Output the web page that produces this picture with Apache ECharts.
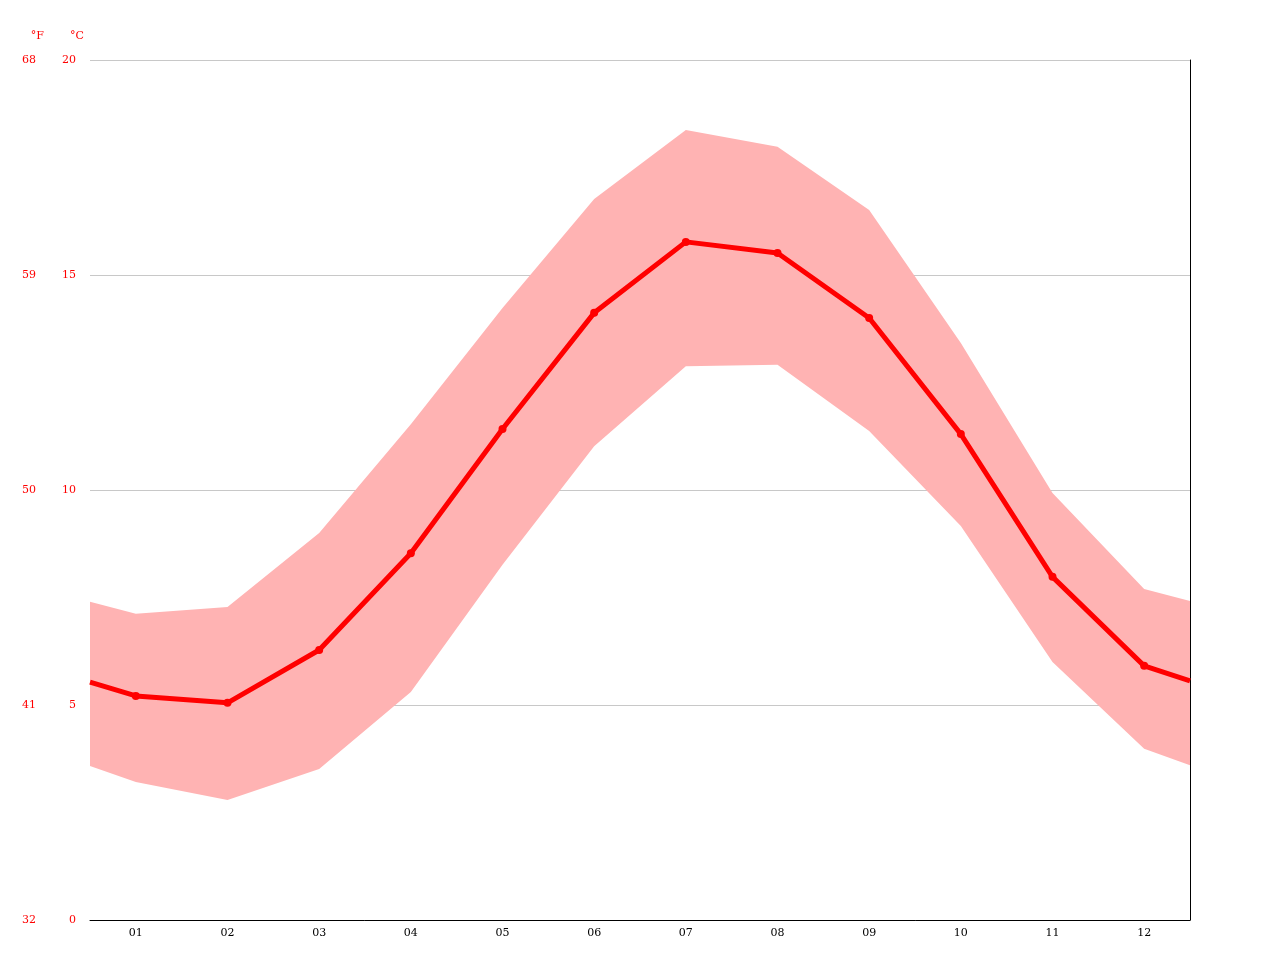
<!DOCTYPE html>
<html>
<head>
<meta charset="utf-8">
<script src="https://cdn.jsdelivr.net/npm/echarts@6/dist/echarts.min.js"></script>
<style>html,body{margin:0;padding:0;background:#fff}#chart{width:1280px;height:960px}</style>
</head>
<body>
<div id="chart"></div>
<script>
// 月份
var months = ['01','02','03','04','05','06','07','08','09','10','11','12'];
// x 位置 (两端为图边缘的值)
var xPos = [0.5, 1, 2, 3, 4, 5, 6, 7, 8, 9, 10, 11, 12, 12.5];
// 平均气温 °C
var tempAvg = [5.53, 5.21, 5.05, 6.28, 8.53, 11.42, 14.12, 15.77, 15.51, 14.0, 11.30, 7.98, 5.91, 5.56];
// 最高气温 °C
var tempMax = [7.40, 7.12, 7.28, 9.0, 11.53, 14.23, 16.77, 18.37, 17.98, 16.51, 13.42, 9.93, 7.70, 7.42];
// 最低气温 °C
var tempMin = [3.58, 3.21, 2.79, 3.51, 5.30, 8.26, 11.02, 12.88, 12.91, 11.37, 9.16, 6.0, 3.98, 3.60];

var pair = function (arr) {
	return arr.map(function (v, i) { return [xPos[i], v]; });
};
var bandData = xPos.map(function (x, i) { return [x, tempMin[i], tempMax[i]]; });

var myChart = echarts.init(document.getElementById('chart'));
var font = 'DejaVu Serif';
option = {
	animation: false,
	grid: { left: 90, right: 90, top: 60, bottom: 40 },
	xAxis: [{
		type: 'category',
		data: months,
		axisLine: { lineStyle: { color: '#000' } },
		axisTick: { lineStyle: { color: '#000' } },
		axisLabel: { color: '#000', fontFamily: font, fontSize: 11 },
		splitLine: { show: false }
	}, {
		type: 'value',
		min: 0.5,
		max: 12.5,
		show: false
	}],
	yAxis: [{
		type: 'value',
		min: 0, max: 20, interval: 5,
		name: '°C',
		nameGap: 18,
		nameTextStyle: { color: 'red', fontFamily: font, fontSize: 11, align: 'right', padding: [0, 6, 0, 0] },
		axisLine: { show: false },
		axisTick: { show: false },
		axisLabel: { color: 'red', fontFamily: font, fontSize: 11, margin: 14 },
		splitLine: { lineStyle: { color: '#c8c8c8' } }
	}, {
		type: 'value',
		min: 32, max: 68, interval: 9,
		position: 'left',
		offset: 40,
		name: '°F',
		nameGap: 18,
		nameTextStyle: { color: 'red', fontFamily: font, fontSize: 11, align: 'right', padding: [0, 6, 0, 0] },
		axisLine: { show: false },
		axisTick: { show: false },
		axisLabel: { color: 'red', fontFamily: font, fontSize: 11, margin: 14 },
		splitLine: { show: false }
	}, {
		type: 'value',
		min: 0, max: 20,
		position: 'right',
		axisLine: { show: true, lineStyle: { color: '#000' } },
		axisTick: { show: false },
		axisLabel: { show: false },
		splitLine: { show: false }
	}],
	series: [{
		// 最高/最低气温带
		type: 'custom',
		xAxisIndex: 1,
		data: bandData,
		silent: true,
		renderItem: function (params, api) {
			if (params.dataIndex !== 0) return;
			var top = [], bottom = [];
			for (var i = 0; i < bandData.length; i++) {
				top.push(api.coord([bandData[i][0], bandData[i][2]]));
				bottom.unshift(api.coord([bandData[i][0], bandData[i][1]]));
			}
			return {
				type: 'polygon',
				shape: { points: top.concat(bottom) },
				style: { fill: '#ffb3b3' }
			};
		}
	}, {
		type: 'line',
		xAxisIndex: 1,
		data: pair(tempAvg),
		lineStyle: { color: '#ff0000', width: 5 },
		itemStyle: { color: '#ff0000' },
		symbol: function (v) { return (v[0] % 1 === 0) ? 'circle' : 'none'; },
		symbolSize: 8,
		showAllSymbol: true,
		z: 3
	}]
};
myChart.setOption(option);
</script>
</body>
</html>
